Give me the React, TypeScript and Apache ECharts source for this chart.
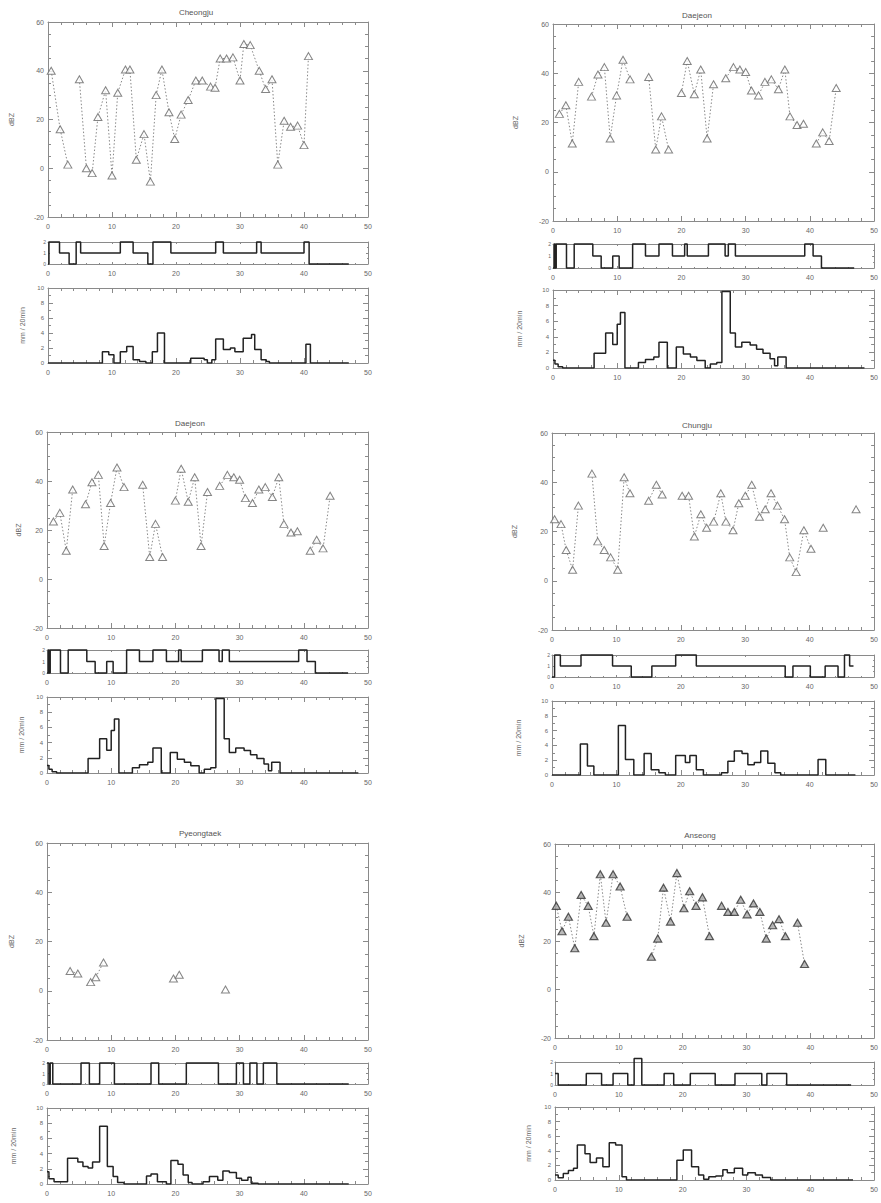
import React, { useEffect, useRef } from "react";
import * as echarts from "echarts";

// ---------------- DATA ----------------
const xTicks = [0, 10, 20, 30, 40, 50];

// Cheongju
const cheongjuX = [0.5, 1.9, 3.1, 4.9, 6.0, 6.9, 7.8, 9.0, 10.0, 10.9, 12.1, 12.8, 13.8, 15.0, 16.0, 16.9, 17.8, 18.9, 19.8, 20.8, 21.9, 23.1, 24.1, 25.4, 26.1, 26.9, 27.9, 28.9, 30.0, 30.6, 31.6, 33.0, 34.0, 35.0, 35.9, 36.9, 37.9, 39.0, 40.0, 40.7];
const cheongjuDbz = [40, 16, 1.5, 36.5, 0, -2, 21, 32, -3, 31, 40.5, 40.5, 3.5, 14, -5.5, 30, 40.5, 23, 12, 22, 28, 36, 36, 33.5, 33, 45, 45, 45.5, 36, 51, 50.5, 40, 32.5, 36.5, 1.5, 19.5, 17, 17.5, 9.5, 46];
const cheongjuStripX = [0, 0.15, 1.8, 3.3, 4.4, 5.1, 11.3, 13.3, 15.6, 16.4, 19.2, 26.2, 27.4, 32.6, 33.3, 40.0, 40.8, 47];
const cheongjuStrip = [0, 2, 1, 0, 2, 1, 2, 1, 0, 2, 1, 2, 1, 2, 1, 2, 0, 0];
const cheongjuRainX = [0, 8.5, 9.5, 10.3, 11.3, 12.3, 13.3, 14.3, 15.3, 16.3, 17.1, 18.2, 22.3, 24.4, 24.9, 25.6, 26.2, 27.4, 28.5, 29.2, 30.5, 31.8, 32.3, 33.3, 34.1, 34.6, 40.3, 41, 47];
const cheongjuRain = [0, 1.5, 1.1, 0, 1.5, 2.2, 0.45, 0.2, 0, 1.5, 4.0, 0, 0.65, 0.45, 0, 0.45, 3.2, 1.8, 2.0, 1.5, 3.3, 3.8, 1.8, 0.45, 0.2, 0, 2.5, 0, 0];

// Daejeon
const daejeonX = [1.0, 2.0, 3.0, 4.0, 6.0, 7.0, 8.0, 8.9, 9.9, 10.9, 12.0, 14.9, 16.0, 16.9, 18.0, 20.0, 20.9, 22.0, 23.0, 24.0, 25.0, 26.9, 28.1, 29.1, 30.0, 30.9, 32.0, 33.0, 34.0, 35.1, 36.1, 36.9, 38.0, 39.0, 41.0, 42.0, 43.0, 44.1];
const daejeonDbz = [23.5, 27, 11.5, 36.5, 30.5, 39.5, 42.5, 13.5, 31, 45.5, 37.5, 38.5, 9, 22.5, 9, 32, 45, 31.5, 41.5, 13.5, 35.5, 38, 42.5, 41.5, 40.5, 33, 31, 36.5, 37.5, 33.5, 41.5, 22.5, 19, 19.5, 11.5, 16, 12.5, 34];
const daejeonStripX = [0, 0.2, 0.35, 0.5, 2.1, 3.3, 6.2, 7.5, 9.3, 10.3, 12.4, 14.4, 16.5, 18.6, 20.5, 20.9, 24.2, 26.8, 27.3, 28.4, 39.2, 40.5, 41.8, 46.9];
const daejeonStrip = [0, 2, 0, 2, 0, 2, 1, 0, 1, 0, 2, 1, 2, 1, 2, 1, 2, 1, 2, 1, 2, 1, 0, 0];
const daejeonRainX = [0, 0.3, 0.8, 1.5, 6.4, 8.2, 9.3, 10.0, 10.5, 11.2, 13.3, 14.4, 15.7, 16.5, 17.8, 19.2, 20.3, 21.4, 22.4, 23.7, 24.5, 25.5, 26.3, 27.6, 28.4, 29.4, 30.7, 31.7, 32.7, 33.8, 34.5, 35.0, 36.3, 48.5];
const daejeonRain = [1.0, 0.5, 0.15, 0, 1.9, 4.5, 3.0, 5.6, 7.1, 0, 0.7, 1.1, 1.4, 3.3, 0, 2.7, 1.8, 1.4, 0.95, 0, 0.5, 0.7, 9.8, 4.5, 2.7, 3.3, 2.95, 2.4, 1.9, 1.2, 0.3, 1.4, 0, 0];

// Chungju
const chungjuX = [0.4, 1.4, 2.2, 3.2, 4.1, 6.2, 7.1, 8.1, 9.1, 10.2, 11.2, 12.1, 15.0, 16.2, 17.1, 20.2, 21.2, 22.1, 23.1, 24.0, 25.1, 26.2, 27.0, 28.1, 29.0, 30.0, 31.0, 32.2, 33.1, 34.0, 35.0, 36.1, 36.9, 37.9, 39.1, 40.2, 42.1, 47.2];
const chungjuDbz = [25, 23, 12.5, 4.5, 30.5, 43.5, 16, 12.5, 9.5, 4.5, 42, 35.5, 32.5, 39, 35, 34.5, 34.5, 18, 27, 21.5, 24, 35.5, 24, 20.5, 31.5, 34.5, 39, 26, 29, 35.5, 30.5, 25, 9.5, 3.5, 20.5, 13, 21.5, 29];
const chungjuStripX = [0, 0.4, 1.3, 4.5, 9.4, 12.3, 15.5, 19.2, 22.4, 36.2, 37.4, 40.1, 42.4, 44.4, 45.4, 46.2, 46.8];
const chungjuStrip = [0, 2, 1, 2, 1, 0, 1, 2, 1, 0, 1, 0, 1, 0, 2, 1, 1];
const chungjuRainX = [0, 4.4, 5.5, 6.5, 10.3, 11.4, 12.7, 14.3, 15.4, 16.6, 17.6, 19.2, 20.7, 21.4, 22.4, 23.5, 26.3, 27.3, 28.3, 29.5, 30.4, 31.4, 32.4, 33.5, 34.6, 35.5, 41.3, 42.5, 47.1];
const chungjuRain = [0, 4.2, 1.2, 0, 6.7, 2.1, 0, 2.9, 0.7, 0.3, 0, 2.65, 1.7, 2.65, 0.7, 0, 0.3, 1.85, 3.25, 2.9, 1.4, 1.7, 3.25, 1.6, 0.3, 0, 2.1, 0, 0];

// Pyeongtaek
const pyeongtaekX = [3.6, 4.8, 6.8, 7.6, 8.8, 19.7, 20.6, 27.8];
const pyeongtaekDbz = [8, 7, 3.5, 5.5, 11.5, 5, 6.5, 0.5];
const pyeongtaekStripX = [0, 0.3, 0.5, 0.9, 5.3, 6.6, 8.2, 10.5, 16.2, 17.4, 21.7, 26.7, 29.5, 30.6, 31.6, 32.7, 33.7, 35.8, 47];
const pyeongtaekStrip = [2, 0, 2, 0, 2, 0, 2, 0, 2, 0, 2, 0, 2, 0, 2, 0, 2, 0, 0];
const pyeongtaekRainX = [0, 0.3, 1.1, 3.2, 4.8, 5.6, 6.4, 7.1, 8.2, 9.4, 10.3, 11.0, 12.0, 15.5, 16.2, 17.2, 18.6, 19.3, 20.4, 21.2, 22.0, 22.6, 24.3, 25.3, 26.6, 27.4, 28.4, 29.5, 30.3, 31.3, 31.8, 32.9, 47];
const pyeongtaekRain = [1.6, 0.7, 0.3, 3.4, 2.9, 2.3, 2.1, 2.9, 7.6, 2.3, 1.0, 0.2, 0, 1.05, 1.3, 0.3, 0, 3.1, 2.6, 1.2, 0.2, 0, 0.3, 1.0, 0.5, 1.7, 1.5, 0.75, 0.5, 0.9, 0.1, 0, 0];

// Anseong
const anseongX = [0.2, 1.1, 2.1, 3.1, 4.1, 5.2, 6.1, 7.1, 8.0, 9.1, 10.2, 11.3, 15.1, 16.1, 17.0, 18.1, 19.1, 20.2, 21.1, 22.1, 23.1, 24.2, 26.1, 27.1, 28.1, 29.1, 30.1, 31.1, 32.1, 33.1, 34.1, 35.1, 36.1, 38.0, 39.1];
const anseongDbz = [34.5, 24, 30, 17, 39, 34.5, 22, 47.5, 27.5, 47.5, 42.5, 30, 13.5, 21, 42, 28, 48, 33.5, 40.5, 34.5, 38, 22, 34.5, 32, 32, 37, 31, 35.5, 32, 21, 26.5, 29, 22, 27.5, 10.5];
const anseongStripX = [0, 0.5, 4.9, 7.3, 9.1, 11.4, 12.4, 13.6, 17.1, 18.6, 21.2, 25.1, 28.2, 32.4, 33.2, 36.3, 46.4];
const anseongStrip = [1, 0, 1, 0, 1, 0, 2.3, 0, 1, 0, 1, 0, 1, 0, 1, 0, 0];
const anseongRainX = [0, 0.5, 1.3, 2.1, 2.9, 3.5, 4.7, 5.5, 6.5, 7.5, 8.5, 9.5, 10.5, 11.2, 19.1, 20.1, 21.4, 22.5, 23.3, 24.1, 25.2, 26.3, 27.0, 28.1, 29.4, 30.2, 31.4, 32.5, 33.8, 46.7];
const anseongRain = [0.7, 0.3, 0.9, 1.3, 1.6, 4.8, 3.6, 2.4, 3.0, 1.8, 5.1, 4.8, 0.45, 0, 2.7, 4.1, 1.8, 0.7, 0.1, 0.45, 0.55, 1.4, 1.0, 1.6, 0.7, 1.0, 0.7, 0.35, 0, 0];

// ---------------- LAYOUT ----------------
type Panel = {
  title: string; px: number[]; py: number[]; sx: number[]; sy: number[]; rx: number[]; ry: number[];
  left: number; right: number; m: [number, number]; s: [number, number]; r: [number, number];
  titleX: number; titleY: number; dbzGap: number; rainGap: number; filled: boolean;
};

const panels: Panel[] = [
  { title: "Cheongju", px: cheongjuX, py: cheongjuDbz, sx: cheongjuStripX, sy: cheongjuStrip, rx: cheongjuRainX, ry: cheongjuRain,
    left: 48, right: 368, m: [22, 217], s: [242, 264], r: [288, 363], titleX: 196, titleY: 12, dbzGap: 33, rainGap: 22, filled: false },
  { title: "Daejeon", px: daejeonX, py: daejeonDbz, sx: daejeonStripX, sy: daejeonStrip, rx: daejeonRainX, ry: daejeonRain,
    left: 553, right: 876, m: [24, 221], s: [244, 268], r: [290, 368], titleX: 697, titleY: 15, dbzGap: 34, rainGap: 30, filled: false },
  { title: "Daejeon", px: daejeonX, py: daejeonDbz, sx: daejeonStripX, sy: daejeonStrip, rx: daejeonRainX, ry: daejeonRain,
    left: 47, right: 368, m: [432, 628], s: [650, 673], r: [697, 773], titleX: 190, titleY: 423, dbzGap: 25, rainGap: 22, filled: false },
  { title: "Chungju", px: chungjuX, py: chungjuDbz, sx: chungjuStripX, sy: chungjuStrip, rx: chungjuRainX, ry: chungjuRain,
    left: 552, right: 876, m: [433, 630], s: [655, 677], r: [701, 775], titleX: 697, titleY: 425, dbzGap: 34, rainGap: 30, filled: false },
  { title: "Pyeongtaek", px: pyeongtaekX, py: pyeongtaekDbz, sx: pyeongtaekStripX, sy: pyeongtaekStrip, rx: pyeongtaekRainX, ry: pyeongtaekRain,
    left: 47, right: 368, m: [843, 1040], s: [1063, 1084], r: [1108, 1184], titleX: 200, titleY: 833, dbzGap: 32, rainGap: 30, filled: false },
  { title: "Anseong", px: anseongX, py: anseongDbz, sx: anseongStripX, sy: anseongStrip, rx: anseongRainX, ry: anseongRain,
    left: 555, right: 875, m: [844, 1038], s: [1062, 1085], r: [1107, 1180], titleX: 700, titleY: 835, dbzGap: 30, rainGap: 23, filled: true },
];

const AX = "#8a8a8a";
const TXT = "#666";
const FONT = "Liberation Sans";

function withBreaks(xs: number[], ys: number[], maxGap: number) {
  const out: any[] = [];
  for (let i = 0; i < xs.length; i++) {
    if (i > 0 && xs[i] - xs[i - 1] > maxGap) out.push(["-", "-"]);
    out.push([xs[i], ys[i]]);
  }
  return out;
}
function pairs(xs: number[], ys: number[]) {
  return xs.map((x, i) => [x, ys[i]]);
}

function buildOption() {
  const grid: any[] = [];
  const xAxis: any[] = [];
  const yAxis: any[] = [];
  const series: any[] = [];
  const graphic: any[] = [];

  const addGrid = (p: Panel, top: number, bottom: number, kind: "main" | "strip" | "rain") => {
    const g = grid.length;
    grid.push({ left: p.left, top, width: p.right - p.left, height: bottom - top, containLabel: false });
    const tick = { show: true, inside: true, length: kind === "strip" ? 2 : 5, lineStyle: { color: AX, width: 1 } };
    const minor = { show: true, splitNumber: 5, length: kind === "strip" ? 1 : 3, lineStyle: { color: AX, width: 1 } };
    const xb = xAxis.length;
    xAxis.push({
      type: "value", gridIndex: g, min: 0, max: 50, interval: 10, position: "bottom",
      axisLine: { show: true, onZero: false, lineStyle: { color: AX, width: 1 } },
      axisTick: tick, minorTick: minor, splitLine: { show: false }, minorSplitLine: { show: false },
      axisLabel: { show: true, fontSize: 7, color: TXT, margin: 6, fontFamily: FONT, customValues: xTicks },
    });
    xAxis.push({
      type: "value", gridIndex: g, min: 0, max: 50, interval: 10, position: "top",
      axisLine: { show: true, onZero: false, lineStyle: { color: AX, width: 1 } },
      axisTick: tick, minorTick: minor, splitLine: { show: false }, axisLabel: { show: false },
    });
    let ymin = -20, ymax = 60, yint = 20, ysplit = 4, name = "dBZ", gap = p.dbzGap, fs = 7;
    if (kind === "strip") { ymin = 0; ymax = 2; yint = 1; ysplit = 2; name = ""; gap = 0; fs = 5; }
    if (kind === "rain") { ymin = 0; ymax = 10; yint = 2; ysplit = 2; name = "mm / 20min"; gap = p.rainGap; fs = 6; }
    const yl = yAxis.length;
    yAxis.push({
      type: "value", gridIndex: g, min: ymin, max: ymax, interval: yint, position: "left",
      name, nameLocation: "middle", nameGap: gap, nameTextStyle: { fontSize: 7, color: TXT, fontFamily: FONT },
      axisLine: { show: true, onZero: false, lineStyle: { color: AX, width: 1 } },
      axisTick: tick, minorTick: { ...minor, splitNumber: ysplit }, splitLine: { show: false },
      axisLabel: { show: true, fontSize: fs, color: TXT, margin: kind === "strip" ? 2 : 4, fontFamily: FONT },
    });
    yAxis.push({
      type: "value", gridIndex: g, min: ymin, max: ymax, interval: yint, position: "right",
      axisLine: { show: true, onZero: false, lineStyle: { color: AX, width: 1 } },
      axisTick: tick, minorTick: { ...minor, splitNumber: ysplit }, splitLine: { show: false }, axisLabel: { show: false },
    });
    return { xi: xb, yi: yl };
  };

  panels.forEach((p) => {
    const m = addGrid(p, p.m[0], p.m[1], "main");
    series.push({
      type: "line", xAxisIndex: m.xi, yAxisIndex: m.yi, data: withBreaks(p.px, p.py, 1.5),
      symbol: "none", connectNulls: false, lineStyle: { type: [1.5, 2], color: "#888", width: 1 }, z: 2,
    });
    series.push({
      type: "scatter", xAxisIndex: m.xi, yAxisIndex: m.yi, data: pairs(p.px, p.py),
      symbol: "triangle", symbolSize: [8, 7],
      itemStyle: p.filled ? { color: "#aaa", borderColor: "#333", borderWidth: 1.2 } : { color: "#fff", borderColor: "#666", borderWidth: 1 },
      z: 3,
    });
    const s = addGrid(p, p.s[0], p.s[1], "strip");
    series.push({
      type: "line", xAxisIndex: s.xi, yAxisIndex: s.yi, data: pairs(p.sx, p.sy), step: "end", clip: false,
      symbol: "none", lineStyle: { color: "#222", width: 1.5 },
    });
    const r = addGrid(p, p.r[0], p.r[1], "rain");
    series.push({
      type: "line", xAxisIndex: r.xi, yAxisIndex: r.yi, data: pairs(p.rx, p.ry), step: "end",
      symbol: "none", lineStyle: { color: "#222", width: 1.5 },
    });
    graphic.push({
      type: "text", x: p.titleX, y: p.titleY,
      style: { text: p.title, fontSize: 8, fill: "#555", fontFamily: FONT, textAlign: "center", textVerticalAlign: "middle" },
    });
  });

  return { animation: false, backgroundColor: "#fff", grid, xAxis, yAxis, series, graphic };
}

export default function App() {
  const ref = useRef<HTMLDivElement>(null);
  useEffect(() => {
    if (!ref.current) return;
    const chart = echarts.init(ref.current, undefined, { renderer: "svg" });
    chart.setOption(buildOption() as any);
    return () => chart.dispose();
  }, []);
  return <div ref={ref} style={{ position: "absolute", left: 0, top: 0, width: 881, height: 1203, background: "#fff" }} />;
}
